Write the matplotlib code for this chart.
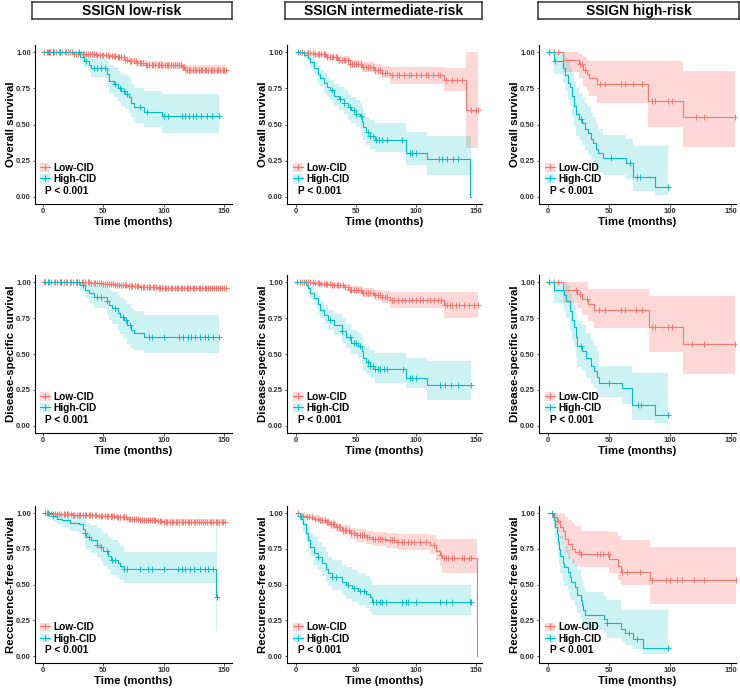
import numpy as np
import matplotlib
matplotlib.use("Agg")
import matplotlib.pyplot as plt
from matplotlib.patches import Patch
from matplotlib.lines import Line2D

plt.rcParams['font.family'] = ['Liberation Sans', 'DejaVu Sans']

# ---------------- labels ----------------
col_titles = ["SSIGN low-risk", "SSIGN intermediate-risk", "SSIGN high-risk"]
row_ylabels = ["Overall survival", "Disease-specific survival", "Reccurence-free survival"]
group_labels = ["Low-CID", "High-CID"]
p_text = "P < 0.001"
x_ticks = [0, 50, 100, 150]
y_ticks = [0.00, 0.25, 0.50, 0.75, 1.00]
y_ticklabels = ["0.00", "0.25", "0.50", "0.75", "1.00"]
x_label = "Time (months)"

# ---------------- OS, low-risk ----------------
os_lr_red_t = [0, 25, 35, 45, 55, 62, 68, 72, 78, 85, 100, 115, 118]
os_lr_red_s = [1.0, 0.99, 0.985, 0.98, 0.975, 0.965, 0.95, 0.94, 0.925, 0.915, 0.91, 0.895, 0.88]
os_lr_red_lo = [1.0, 0.98, 0.975, 0.968, 0.96, 0.948, 0.932, 0.92, 0.903, 0.892, 0.886, 0.868, 0.852]
os_lr_red_hi = [1.0, 1.0, 0.995, 0.99, 0.988, 0.98, 0.968, 0.96, 0.947, 0.938, 0.934, 0.922, 0.91]
os_lr_red_end = 152
os_lr_red_cens = [1, 3, 4, 6, 8, 9, 11, 13, 14, 16, 18, 19, 21, 22, 24, 26, 27, 29, 31, 33, 34, 36, 37, 39,
                  41, 42, 44, 45, 47, 49, 50, 52, 54, 55, 57, 59, 60, 62, 63, 65, 67, 68, 70, 72, 73, 75,
                  77, 78, 80, 81, 83, 85, 86, 88, 90, 91, 93, 95, 96, 98, 99, 101, 103, 104, 106, 108, 109,
                  111, 113, 114, 116, 117, 119, 121, 122, 124, 126, 127, 129, 131, 132, 134, 135, 137,
                  139, 140, 142, 144, 145, 147, 149, 150, 152]
os_lr_teal_t = [0, 31, 34, 38, 40, 53, 55, 59, 62, 65, 68, 71, 73, 75, 84, 99]
os_lr_teal_s = [1.0, 0.97, 0.94, 0.915, 0.89, 0.85, 0.80, 0.78, 0.75, 0.73, 0.71, 0.69, 0.65, 0.62, 0.59, 0.56]
os_lr_teal_lo = [1.0, 0.93, 0.90, 0.87, 0.83, 0.77, 0.72, 0.69, 0.66, 0.63, 0.61, 0.58, 0.55, 0.51, 0.48, 0.44]
os_lr_teal_hi = [1.0, 1.0, 0.99, 0.975, 0.96, 0.94, 0.91, 0.90, 0.87, 0.85, 0.84, 0.82, 0.78, 0.75, 0.73, 0.71]
os_lr_teal_end = 146
os_lr_teal_cens = [5, 8, 14, 30, 36, 42, 45, 48, 51, 60, 64, 67, 70, 80, 86, 100, 104, 115, 118, 121, 124,
                   127, 131, 136, 140, 146]

# ---------------- OS, intermediate-risk ----------------
os_ir_red_t = [0, 6, 15, 25, 35, 45, 55, 65, 72, 78, 123, 142]
os_ir_red_s = [1.0, 0.995, 0.985, 0.97, 0.95, 0.92, 0.90, 0.88, 0.86, 0.84, 0.81, 0.60]
os_ir_red_lo = [1.0, 0.985, 0.97, 0.95, 0.925, 0.89, 0.865, 0.84, 0.82, 0.78, 0.73, 0.34]
os_ir_red_hi = [1.0, 1.0, 1.0, 0.99, 0.975, 0.95, 0.935, 0.92, 0.905, 0.90, 0.89, 1.0]
os_ir_red_end = 152
os_ir_red_cens = [3, 5, 7, 9, 10, 12, 14, 16, 18, 19, 21, 23, 24, 26, 28, 30, 31, 33, 34, 36, 38, 40, 41,
                  43, 45, 47, 48, 50, 52, 54, 56, 58, 60, 62, 64, 66, 68, 70, 72, 74, 76, 80, 84, 86, 90,
                  94, 96, 100, 104, 108, 110, 114, 118, 120, 125, 130, 134, 138, 146, 150, 152]
os_ir_teal_t = [0, 7, 10, 12, 15, 18, 20, 23, 26, 28, 32, 36, 40, 43, 46, 50, 53, 55, 56, 58, 62, 66, 92, 109, 145]
os_ir_teal_s = [1.0, 0.98, 0.96, 0.93, 0.89, 0.85, 0.82, 0.79, 0.76, 0.74, 0.70, 0.68, 0.65, 0.62, 0.60,
                0.575, 0.56, 0.52, 0.48, 0.445, 0.42, 0.395, 0.30, 0.26, 0.0]
os_ir_teal_lo = [1.0, 0.96, 0.93, 0.89, 0.84, 0.79, 0.76, 0.72, 0.69, 0.67, 0.63, 0.60, 0.57, 0.53, 0.51,
                 0.49, 0.47, 0.43, 0.39, 0.36, 0.33, 0.31, 0.22, 0.15, 0.15]
os_ir_teal_hi = [1.0, 1.0, 0.99, 0.97, 0.94, 0.91, 0.88, 0.86, 0.83, 0.81, 0.78, 0.76, 0.74, 0.71, 0.69,
                 0.67, 0.65, 0.62, 0.58, 0.55, 0.53, 0.51, 0.445, 0.42, 0.42]
os_ir_teal_end = 145.5
os_ir_teal_cens = [2, 30, 37, 40, 45, 48, 50, 54, 60, 62, 64, 67, 69, 72, 76, 88, 95, 97, 100, 119, 122,
                   126, 131, 135]

# ---------------- OS, high-risk ----------------
os_hr_red_t = [0, 12, 25, 29, 32, 34, 40, 82, 111]
os_hr_red_s = [1.0, 0.95, 0.92, 0.88, 0.85, 0.82, 0.78, 0.66, 0.55]
os_hr_red_lo = [1.0, 0.866, 0.82, 0.77, 0.73, 0.70, 0.647, 0.485, 0.346]
os_hr_red_hi = [1.0, 1.0, 0.99, 0.97, 0.95, 0.94, 0.94, 0.94, 0.873]
os_hr_red_end = 153
os_hr_red_cens = [5, 8, 26, 28, 30, 43, 47, 60, 63, 70, 77, 85, 88, 98, 102, 121, 128, 153]
os_hr_teal_t = [0, 5, 12, 14, 16, 18, 20, 21, 23, 25, 28, 30, 33, 35, 37, 39, 41, 45, 64, 70, 88]
os_hr_teal_s = [1.0, 0.94, 0.89, 0.84, 0.79, 0.76, 0.70, 0.63, 0.57, 0.54, 0.51, 0.47, 0.44, 0.40, 0.37,
                0.33, 0.30, 0.27, 0.235, 0.135, 0.067]
os_hr_teal_lo = [1.0, 0.85, 0.79, 0.73, 0.67, 0.63, 0.56, 0.49, 0.42, 0.39, 0.36, 0.32, 0.29, 0.26, 0.23,
                 0.20, 0.17, 0.15, 0.12, 0.04, 0.01]
os_hr_teal_hi = [1.0, 1.0, 0.99, 0.96, 0.93, 0.90, 0.86, 0.80, 0.75, 0.72, 0.69, 0.65, 0.62, 0.58, 0.55,
                 0.51, 0.47, 0.43, 0.40, 0.35, 0.35]
os_hr_teal_end = 98
os_hr_teal_cens = [1, 6, 27, 52, 67, 73, 75, 98]

# ---------------- DSS, low-risk ----------------
dss_lr_red_t = [0, 40, 50, 60, 70, 80, 95, 100]
dss_lr_red_s = [1.0, 0.995, 0.99, 0.985, 0.975, 0.97, 0.965, 0.96]
dss_lr_red_lo = [1.0, 0.99, 0.98, 0.972, 0.96, 0.953, 0.947, 0.94]
dss_lr_red_hi = [1.0, 1.0, 1.0, 0.995, 0.99, 0.985, 0.98, 0.978]
dss_lr_red_end = 152
dss_lr_red_cens = [1, 2, 4, 5, 7, 9, 10, 12, 14, 15, 17, 19, 20, 22, 23, 25, 27, 28, 30, 32, 33, 35, 37,
                   38, 40, 42, 43, 45, 46, 48, 50, 51, 53, 55, 56, 58, 60, 61, 63, 65, 66, 68, 69, 71, 73,
                   74, 76, 78, 79, 81, 83, 84, 86, 88, 89, 91, 92, 94, 96, 97, 99, 101, 102, 104, 106, 107,
                   109, 111, 112, 114, 115, 117, 119, 120, 122, 124, 125, 127, 129, 130, 132, 134, 135,
                   137, 138, 140, 142, 143, 145, 147, 148, 150, 152]
dss_lr_teal_t = [0, 31, 35, 38, 42, 53, 55, 57, 62, 64, 67, 70, 73, 75, 84]
dss_lr_teal_s = [1.0, 0.98, 0.95, 0.93, 0.90, 0.87, 0.845, 0.82, 0.79, 0.76, 0.735, 0.70, 0.67, 0.65, 0.62]
dss_lr_teal_lo = [1.0, 0.94, 0.89, 0.86, 0.82, 0.77, 0.74, 0.71, 0.67, 0.64, 0.61, 0.57, 0.54, 0.53, 0.505]
dss_lr_teal_hi = [1.0, 1.0, 1.0, 0.99, 0.975, 0.96, 0.95, 0.935, 0.915, 0.895, 0.875, 0.85, 0.82, 0.80, 0.77]
dss_lr_teal_end = 146
dss_lr_teal_cens = [4, 15, 28, 33, 45, 48, 53, 60, 66, 69, 72, 88, 90, 100, 113, 116, 120, 123, 126, 130,
                    134, 137, 141, 146]

# ---------------- DSS, intermediate-risk ----------------
dss_ir_red_t = [0, 15, 20, 30, 40, 45, 55, 65, 72, 78, 123]
dss_ir_red_s = [1.0, 0.995, 0.99, 0.98, 0.97, 0.95, 0.93, 0.91, 0.90, 0.88, 0.84]
dss_ir_red_lo = [1.0, 0.985, 0.978, 0.965, 0.95, 0.925, 0.90, 0.875, 0.86, 0.82, 0.753]
dss_ir_red_hi = [1.0, 1.0, 1.0, 0.995, 0.99, 0.975, 0.96, 0.945, 0.94, 0.934, 0.934]
dss_ir_red_end = 152
dss_ir_red_cens = [3, 5, 7, 8, 10, 12, 14, 16, 18, 19, 21, 23, 25, 26, 28, 30, 32, 34, 35, 37, 39, 41,
                   43, 45, 46, 48, 50, 52, 54, 56, 58, 60, 62, 64, 66, 68, 70, 72, 74, 76, 80, 82, 85, 88,
                   91, 94, 97, 100, 103, 106, 109, 112, 115, 118, 121, 124, 126, 128, 130, 133, 136, 140,
                   144, 148, 152]
dss_ir_teal_t = [0, 8, 10, 12, 15, 18, 20, 23, 27, 32, 38, 42, 46, 52, 55, 56, 58, 62, 66, 92, 109]
dss_ir_teal_s = [1.0, 0.98, 0.96, 0.93, 0.89, 0.85, 0.81, 0.77, 0.74, 0.70, 0.66, 0.62, 0.58, 0.56, 0.52,
                 0.47, 0.445, 0.42, 0.395, 0.335, 0.285]
dss_ir_teal_lo = [1.0, 0.96, 0.93, 0.89, 0.84, 0.79, 0.75, 0.71, 0.67, 0.63, 0.58, 0.54, 0.50, 0.47, 0.43,
                  0.38, 0.36, 0.33, 0.30, 0.26, 0.18]
dss_ir_teal_hi = [1.0, 1.0, 0.99, 0.97, 0.94, 0.91, 0.87, 0.84, 0.81, 0.78, 0.75, 0.71, 0.67, 0.65, 0.62,
                  0.57, 0.55, 0.53, 0.51, 0.47, 0.45]
dss_ir_teal_end = 146
dss_ir_teal_cens = [1, 28, 38, 45, 48, 50, 53, 60, 62, 64, 66, 68, 70, 73, 76, 89, 95, 97, 100, 120, 124,
                    129, 135, 146]

# ---------------- DSS, high-risk ----------------
dss_hr_red_t = [0, 12, 24, 28, 33, 38, 83, 111]
dss_hr_red_s = [1.0, 0.95, 0.92, 0.885, 0.85, 0.81, 0.69, 0.57]
dss_hr_red_lo = [1.0, 0.86, 0.82, 0.77, 0.73, 0.683, 0.514, 0.363]
dss_hr_red_hi = [1.0, 1.0, 1.0, 1.0, 0.955, 0.955, 0.907, 0.907]
dss_hr_red_end = 153
dss_hr_red_cens = [5, 8, 23, 26, 32, 42, 47, 60, 63, 72, 77, 85, 88, 98, 102, 118, 128, 153]
dss_hr_teal_t = [0, 5, 13, 15, 18, 20, 21, 23, 24, 28, 31, 35, 38, 40, 42, 61, 69, 88]
dss_hr_teal_s = [1.0, 0.95, 0.91, 0.87, 0.80, 0.74, 0.69, 0.62, 0.555, 0.52, 0.47, 0.42, 0.38, 0.34,
                 0.295, 0.26, 0.148, 0.074]
dss_hr_teal_lo = [1.0, 0.86, 0.80, 0.75, 0.67, 0.60, 0.55, 0.48, 0.41, 0.38, 0.33, 0.29, 0.26, 0.22, 0.20,
                  0.15, 0.04, 0.016]
dss_hr_teal_hi = [1.0, 1.0, 1.0, 0.98, 0.93, 0.88, 0.84, 0.78, 0.73, 0.70, 0.65, 0.60, 0.56, 0.52, 0.415,
                  0.415, 0.37, 0.37]
dss_hr_teal_end = 98
dss_hr_teal_cens = [1, 27, 50, 74, 76, 98]

# ---------------- RFS, low-risk ----------------
rfs_lr_red_t = [0, 5, 10, 25, 45, 60, 70, 80, 95, 100]
rfs_lr_red_s = [1.0, 0.995, 0.99, 0.985, 0.98, 0.97, 0.96, 0.95, 0.945, 0.94]
rfs_lr_red_lo = [1.0, 0.985, 0.98, 0.975, 0.968, 0.957, 0.945, 0.933, 0.928, 0.922]
rfs_lr_red_hi = [1.0, 1.0, 1.0, 0.995, 0.99, 0.983, 0.975, 0.965, 0.96, 0.957]
rfs_lr_red_end = 152
rfs_lr_red_cens = [2, 3, 5, 7, 8, 10, 12, 13, 15, 17, 18, 20, 21, 23, 25, 26, 28, 30, 31, 33, 35, 36, 38,
                   39, 41, 43, 44, 46, 48, 49, 51, 53, 54, 56, 57, 59, 61, 62, 64, 66, 67, 69, 71, 72, 74,
                   75, 77, 79, 80, 82, 84, 85, 87, 89, 90, 92, 93, 95, 97, 98, 100, 102, 103, 105, 107,
                   108, 110, 111, 113, 115, 116, 118, 120, 121, 123, 125, 126, 128, 129, 131, 133, 134,
                   136, 138, 139, 141, 143, 144, 146, 148, 149, 151]
rfs_lr_teal_t = [0, 8, 12, 16, 22, 30, 33, 35, 36, 40, 45, 48, 50, 54, 56, 62, 64, 67, 143]
rfs_lr_teal_s = [1.0, 0.98, 0.96, 0.95, 0.93, 0.92, 0.89, 0.86, 0.83, 0.81, 0.78, 0.76, 0.735, 0.70, 0.673,
                 0.65, 0.63, 0.61, 0.41]
rfs_lr_teal_lo = [1.0, 0.94, 0.92, 0.90, 0.875, 0.86, 0.82, 0.78, 0.75, 0.72, 0.69, 0.66, 0.63, 0.60, 0.57,
                  0.55, 0.53, 0.51, 0.176]
rfs_lr_teal_hi = [1.0, 1.0, 1.0, 0.995, 0.985, 0.98, 0.965, 0.95, 0.93, 0.915, 0.895, 0.88, 0.86, 0.83,
                  0.81, 0.79, 0.77, 0.73, 0.935]
rfs_lr_teal_end = 144
rfs_lr_teal_cens = [4, 8, 35, 38, 45, 48, 53, 57, 60, 67, 70, 80, 87, 90, 100, 112, 115, 118, 122, 125,
                    130, 134, 137, 141, 144]

# ---------------- RFS, intermediate-risk ----------------
rfs_ir_red_t = [0, 3, 8, 15, 20, 25, 28, 33, 38, 45, 50, 58, 63, 75, 85, 112, 117, 120, 122, 151]
rfs_ir_red_s = [1.0, 0.98, 0.97, 0.96, 0.95, 0.94, 0.92, 0.90, 0.88, 0.86, 0.843, 0.83, 0.82, 0.808,
                0.797, 0.78, 0.735, 0.71, 0.688, 0.0]
rfs_ir_red_lo = [1.0, 0.96, 0.95, 0.935, 0.92, 0.91, 0.89, 0.865, 0.845, 0.82, 0.80, 0.785, 0.77, 0.755,
                 0.74, 0.72, 0.67, 0.63, 0.584, 0.584]
rfs_ir_red_hi = [1.0, 1.0, 0.99, 0.985, 0.975, 0.965, 0.95, 0.93, 0.915, 0.895, 0.885, 0.875, 0.87, 0.86,
                 0.855, 0.845, 0.815, 0.815, 0.815, 0.815]
rfs_ir_red_end = 151
rfs_ir_red_cens = [2, 4, 6, 9, 11, 13, 16, 18, 20, 22, 24, 26, 27, 29, 31, 32, 34, 36, 37, 39, 41, 42, 44,
                   46, 48, 51, 53, 55, 57, 59, 61, 64, 66, 68, 70, 72, 74, 78, 80, 82, 85, 88, 90, 93, 96,
                   98, 103, 108, 115, 121, 123, 125, 127, 130, 132, 138, 140, 144, 146]
rfs_ir_teal_t = [0, 3, 4, 6, 8, 10, 12, 15, 18, 22, 25, 27, 30, 38, 42, 47, 52, 58, 62, 63]
rfs_ir_teal_s = [1.0, 0.98, 0.96, 0.92, 0.86, 0.81, 0.762, 0.72, 0.693, 0.65, 0.612, 0.58, 0.55, 0.52,
                 0.497, 0.476, 0.455, 0.434, 0.41, 0.381]
rfs_ir_teal_lo = [1.0, 0.95, 0.92, 0.87, 0.80, 0.74, 0.69, 0.64, 0.60, 0.56, 0.52, 0.49, 0.46, 0.43, 0.40,
                  0.38, 0.36, 0.34, 0.31, 0.289]
rfs_ir_teal_hi = [1.0, 1.0, 1.0, 0.98, 0.94, 0.90, 0.86, 0.83, 0.80, 0.76, 0.73, 0.69, 0.67, 0.64, 0.62,
                  0.60, 0.58, 0.56, 0.53, 0.50]
rfs_ir_teal_end = 146
rfs_ir_teal_cens = [3, 18, 30, 33, 43, 48, 53, 57, 64, 67, 70, 72, 75, 88, 92, 93, 100, 120, 125, 130,
                    145, 146]

# ---------------- RFS, high-risk ----------------
rfs_hr_red_t = [0, 5, 7, 10, 12, 14, 16, 20, 22, 27, 50, 57, 60, 84]
rfs_hr_red_s = [1.0, 0.97, 0.944, 0.90, 0.873, 0.82, 0.782, 0.75, 0.73, 0.713, 0.676, 0.63, 0.59, 0.532]
rfs_hr_red_lo = [1.0, 0.91, 0.87, 0.82, 0.78, 0.72, 0.68, 0.65, 0.63, 0.625, 0.58, 0.53, 0.498, 0.366]
rfs_hr_red_hi = [1.0, 1.0, 1.0, 1.0, 0.99, 0.97, 0.95, 0.93, 0.91, 0.875, 0.87, 0.84, 0.81, 0.764]
rfs_hr_red_end = 154
rfs_hr_red_cens = [5, 8, 25, 27, 40, 43, 45, 49, 61, 65, 75, 85, 97, 100, 106, 110, 120, 128, 154]
rfs_hr_teal_t = [0, 4, 5, 6, 7, 8, 9, 10, 12, 13, 16, 18, 19, 22, 24, 27, 28, 29, 30, 46, 48, 60, 63, 70, 78]
rfs_hr_teal_s = [1.0, 0.97, 0.95, 0.90, 0.85, 0.80, 0.75, 0.70, 0.65, 0.62, 0.59, 0.55, 0.52, 0.48, 0.43,
                 0.39, 0.36, 0.32, 0.285, 0.26, 0.23, 0.19, 0.162, 0.12, 0.058]
rfs_hr_teal_lo = [1.0, 0.92, 0.89, 0.82, 0.76, 0.70, 0.64, 0.58, 0.52, 0.49, 0.46, 0.42, 0.39, 0.35, 0.30,
                  0.26, 0.24, 0.21, 0.18, 0.16, 0.13, 0.10, 0.08, 0.05, 0.012]
rfs_hr_teal_hi = [1.0, 1.0, 1.0, 1.0, 0.96, 0.92, 0.88, 0.84, 0.80, 0.77, 0.74, 0.71, 0.68, 0.64, 0.60,
                  0.56, 0.53, 0.49, 0.45, 0.42, 0.39, 0.325, 0.325, 0.325, 0.325]
rfs_hr_teal_end = 98
rfs_hr_teal_cens = [3, 48, 66, 73, 98]

# ---------------- styling ----------------
RED = "#F8766D"
TEAL = "#00BFC4"
RED_ALPHA = 0.28
TEAL_ALPHA = 0.2
W, H = 740, 690

# column geometry in pixels: spine x, x=0 pixel, x=150 pixel, right end
cols_px = [(35, 43, 224, 232), (287, 296, 476, 482), (539, 548, 731, 736)]
# row geometry: y=1 pixel, y=0 pixel
rows_px = [(52.3, 196.7), (282.5, 425.7), (513.0, 656.2)]


def curve(t, s, lo, hi, end, cens):
    return dict(t=t, s=s, lo=lo, hi=hi, end=end, cens=cens)


panels = [
    [(curve(os_lr_red_t, os_lr_red_s, os_lr_red_lo, os_lr_red_hi, os_lr_red_end, os_lr_red_cens),
      curve(os_lr_teal_t, os_lr_teal_s, os_lr_teal_lo, os_lr_teal_hi, os_lr_teal_end, os_lr_teal_cens)),
     (curve(os_ir_red_t, os_ir_red_s, os_ir_red_lo, os_ir_red_hi, os_ir_red_end, os_ir_red_cens),
      curve(os_ir_teal_t, os_ir_teal_s, os_ir_teal_lo, os_ir_teal_hi, os_ir_teal_end, os_ir_teal_cens)),
     (curve(os_hr_red_t, os_hr_red_s, os_hr_red_lo, os_hr_red_hi, os_hr_red_end, os_hr_red_cens),
      curve(os_hr_teal_t, os_hr_teal_s, os_hr_teal_lo, os_hr_teal_hi, os_hr_teal_end, os_hr_teal_cens))],
    [(curve(dss_lr_red_t, dss_lr_red_s, dss_lr_red_lo, dss_lr_red_hi, dss_lr_red_end, dss_lr_red_cens),
      curve(dss_lr_teal_t, dss_lr_teal_s, dss_lr_teal_lo, dss_lr_teal_hi, dss_lr_teal_end, dss_lr_teal_cens)),
     (curve(dss_ir_red_t, dss_ir_red_s, dss_ir_red_lo, dss_ir_red_hi, dss_ir_red_end, dss_ir_red_cens),
      curve(dss_ir_teal_t, dss_ir_teal_s, dss_ir_teal_lo, dss_ir_teal_hi, dss_ir_teal_end, dss_ir_teal_cens)),
     (curve(dss_hr_red_t, dss_hr_red_s, dss_hr_red_lo, dss_hr_red_hi, dss_hr_red_end, dss_hr_red_cens),
      curve(dss_hr_teal_t, dss_hr_teal_s, dss_hr_teal_lo, dss_hr_teal_hi, dss_hr_teal_end, dss_hr_teal_cens))],
    [(curve(rfs_lr_red_t, rfs_lr_red_s, rfs_lr_red_lo, rfs_lr_red_hi, rfs_lr_red_end, rfs_lr_red_cens),
      curve(rfs_lr_teal_t, rfs_lr_teal_s, rfs_lr_teal_lo, rfs_lr_teal_hi, rfs_lr_teal_end, rfs_lr_teal_cens)),
     (curve(rfs_ir_red_t, rfs_ir_red_s, rfs_ir_red_lo, rfs_ir_red_hi, rfs_ir_red_end, rfs_ir_red_cens),
      curve(rfs_ir_teal_t, rfs_ir_teal_s, rfs_ir_teal_lo, rfs_ir_teal_hi, rfs_ir_teal_end, rfs_ir_teal_cens)),
     (curve(rfs_hr_red_t, rfs_hr_red_s, rfs_hr_red_lo, rfs_hr_red_hi, rfs_hr_red_end, rfs_hr_red_cens),
      curve(rfs_hr_teal_t, rfs_hr_teal_s, rfs_hr_teal_lo, rfs_hr_teal_hi, rfs_hr_teal_end, rfs_hr_teal_cens))],
]


def draw_band(ax, c, color, alpha):
    x = np.append(c["t"], c["end"])
    lo = np.append(c["lo"], c["lo"][-1])
    hi = np.append(c["hi"], c["hi"][-1])
    ax.fill_between(x, lo, hi, step="post", color=color, alpha=alpha, lw=0)


def draw_line(ax, c, color):
    x = np.append(c["t"], c["end"])
    y = np.append(c["s"], c["s"][-1])
    ax.step(x, y, where="post", color=color, lw=0.8)
    t = np.asarray(c["t"], dtype=float)
    s = np.asarray(c["s"], dtype=float)
    cens = np.asarray(c["cens"], dtype=float)
    idx = np.clip(np.searchsorted(t, cens, side="right") - 1, 0, len(s) - 1)
    ax.plot(cens, s[idx], "+", color=color, ms=4, mew=0.7, ls="none")


fig = plt.figure(figsize=(W / 100, H / 100), dpi=100)

for r in range(3):
    y1p, y0p = rows_px[r]
    ysc = y0p - y1p
    top = y1p - 0.05 * ysc
    bot = y0p + 0.05 * ysc
    for c in range(3):
        sp, zp, p150, rp = cols_px[c]
        xsc = (p150 - zp) / 150.0
        xmin = (sp - zp) / xsc
        xmax = (rp - zp) / xsc
        ax = fig.add_axes([sp / W, 1 - bot / H, (rp - sp) / W, (bot - top) / H])
        ax.set_xlim(xmin, xmax)
        ax.set_ylim(-0.05, 1.05)
        red, teal = panels[r][c]
        draw_band(ax, red, RED, RED_ALPHA)
        draw_band(ax, teal, TEAL, TEAL_ALPHA)
        draw_line(ax, red, RED)
        draw_line(ax, teal, TEAL)

        for s_ in ("top", "right"):
            ax.spines[s_].set_visible(False)
        for s_ in ("left", "bottom"):
            ax.spines[s_].set_linewidth(0.8)
            ax.spines[s_].set_color("black")
        ax.set_xticks(x_ticks)
        ax.set_yticks(y_ticks)
        ax.set_yticklabels(y_ticklabels)
        ax.tick_params(axis="both", length=1.8, width=0.6, pad=1.0, labelsize=5.5,
                       labelcolor="#333333", color="#333333")
        for lab in ax.get_xticklabels() + ax.get_yticklabels():
            lab.set_fontweight("bold")

        ax.set_xlabel(x_label, fontsize=8.2, fontweight="bold", va="top")
        ax.xaxis.set_label_coords(0.5, -13.0 / (bot - top))
        ax.set_ylabel(row_ylabels[r], fontsize=8.2, fontweight="bold")
        ax.yaxis.set_label_coords(-19.0 / (rp - sp), 0.5)

        handles = [(Patch(facecolor=RED, alpha=RED_ALPHA, edgecolor="none"),
                    Line2D([], [], color=RED, lw=0.8, marker="+", ms=5, mew=0.8)),
                   (Patch(facecolor=TEAL, alpha=TEAL_ALPHA, edgecolor="none"),
                    Line2D([], [], color=TEAL, lw=0.8, marker="+", ms=5, mew=0.8))]
        leg = ax.legend(handles, group_labels, loc="lower left",
                        bbox_to_anchor=(-2.8, 0.088), bbox_transform=ax.transData,
                        frameon=False, borderpad=0, borderaxespad=0,
                        handlelength=1.0, handleheight=0.95, handletextpad=0.35,
                        labelspacing=0.12, prop=dict(weight="bold", size=7.3))
        ax.text(2.0, 0.04, p_text, fontsize=7.3, fontweight="bold", va="center", ha="left")

# column header boxes
boxes_px = [(32, 232), (285, 482), (538, 739)]
for c in range(3):
    x0, x1 = boxes_px[c]
    y0b, y1b = 1.5, 18.5
    hax = fig.add_axes([x0 / W, 1 - y1b / H, (x1 - x0) / W, (y1b - y0b) / H])
    hax.set_xticks([])
    hax.set_yticks([])
    for s_ in hax.spines.values():
        s_.set_linewidth(1.1)
        s_.set_color("#333333")
    hax.text(0.5, 0.47, col_titles[c], ha="center", va="center", fontsize=10,
             fontweight="bold", transform=hax.transAxes)

fig.savefig("out.png", dpi=100)
